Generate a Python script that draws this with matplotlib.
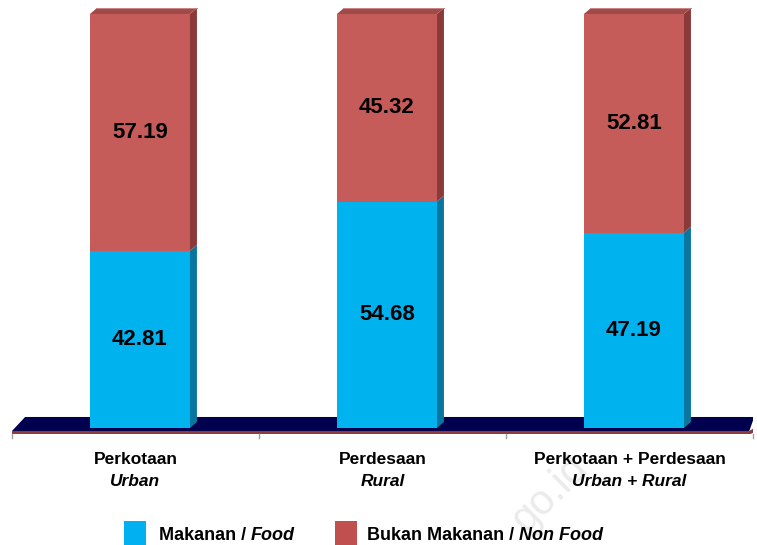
import matplotlib
matplotlib.use("Agg")
import matplotlib.pyplot as plt
from matplotlib.patches import Polygon, Rectangle

categories_id = ["Perkotaan", "Perdesaan", "Perkotaan + Perdesaan"]
categories_en = ["Urban", "Rural", "Urban + Rural"]
food = [42.81, 54.68, 47.19]
non_food = [57.19, 45.32, 52.81]
legend_id = ["Makanan / ", "Bukan Makanan / "]
legend_en = ["Food", "Non Food"]

FONT = "Liberation Sans"
plt.rcParams["font.family"] = [FONT, "DejaVu Sans"]

fig = plt.figure(figsize=(7.57, 5.45), dpi=100)
ax = fig.add_axes([12 / 757, (545 - 440) / 545, 741 / 757, 432 / 545])
ax.set_xlim(-0.5, 2.5)
ax.set_ylim(-2.9, 101.45)
ax.axis("off")

# faint watermark
fig.text(558 / 757, 1 - 502 / 545, "go.id", color="#ebebeb", fontsize=30,
         rotation=45, rotation_mode="anchor", ha="center", va="baseline", zorder=-5)

# floor
navy = "#00004E"
floor = Polygon([(-0.5, -0.72), (-0.447, 2.66), (2.505, 2.66), (2.485, -0.72)],
                closed=True, facecolor=navy, edgecolor="none", zorder=1)
ax.add_patch(floor)
edge = Polygon([(-0.5, -0.72), (2.485, -0.72), (2.51, 0.2), (2.51, -0.9), (2.49, -1.45), (-0.5, -1.45)],
               closed=True, facecolor="#8E3B3B", edgecolor="none", zorder=1)
ax.add_patch(edge)
for xt in [-0.5, 0.5, 1.5, 2.5]:
    ax.plot([xt, xt], [-1.45, -2.5], color="#a0a0a0", lw=1, zorder=1, clip_on=False)

width = 0.405
offset = 0.018
dx, dy = 0.0283, 1.45

face_cols = ["#00B2EE", "#C65C59"]
side_cols = ["#0A76A0", "#8A3B39"]
top_cols = ["#0A8FC0", "#A04B49"]

for i in range(len(categories_id)):
    xc = i + offset
    x0, x1 = xc - width / 2, xc + width / 2
    bottom = 0
    segs = [food[i], non_food[i]]
    for k, v in enumerate(segs):
        top = bottom + v
        ax.add_patch(Polygon([(x1, bottom), (x1 + dx, bottom + dy), (x1 + dx, top + dy), (x1, top)],
                             closed=True, facecolor=side_cols[k], edgecolor="none", zorder=2))
        ax.bar(xc, v, width=width, bottom=bottom, color=face_cols[k], zorder=3, linewidth=0)
        ax.text(xc, bottom + v / 2, f"{v:.2f}", ha="center", va="center",
                fontsize=16, fontweight="bold", color="black", zorder=5)
        bottom = top
    ax.add_patch(Polygon([(x0, bottom), (x0 + dx, bottom + dy), (x1 + dx, bottom + dy), (x1, bottom)],
                         closed=True, facecolor=top_cols[1], edgecolor="none", zorder=2))
    ax.plot([x0 + dx, x1 + dx], [bottom + dy, bottom + dy], color="#C98583", lw=0.8, zorder=2)

# category labels
for i in range(len(categories_id)):
    xf = (12 + 247 * (i + 0.5)) / 757
    fig.text(xf, 1 - 459 / 545, categories_id[i], ha="center", va="center",
             fontsize=12.5, fontweight="bold")
    fig.text(xf, 1 - 482 / 545, categories_en[i], ha="center", va="center",
             fontsize=12.5, fontweight="bold", fontstyle="italic")

# legend
leg_cols = ["#00B0F0", "#C0504D"]
patch_x = [124, 335]
text_x = [159, 367]
for k in range(2):
    fig.patches.append(Rectangle((patch_x[k] / 757, 0), 22 / 757, 24 / 545,
                                 transform=fig.transFigure, facecolor=leg_cols[k],
                                 edgecolor="none"))
    t1 = fig.text(text_x[k] / 757, 1 - 535 / 545, legend_id[k], ha="left", va="center",
                  fontsize=13, fontweight="bold")
    ax.annotate(legend_en[k], xy=(1, 0), xycoords=t1, ha="left", va="bottom",
                fontsize=13, fontweight="bold", fontstyle="italic", annotation_clip=False)

fig.savefig("out.png", dpi=100)
